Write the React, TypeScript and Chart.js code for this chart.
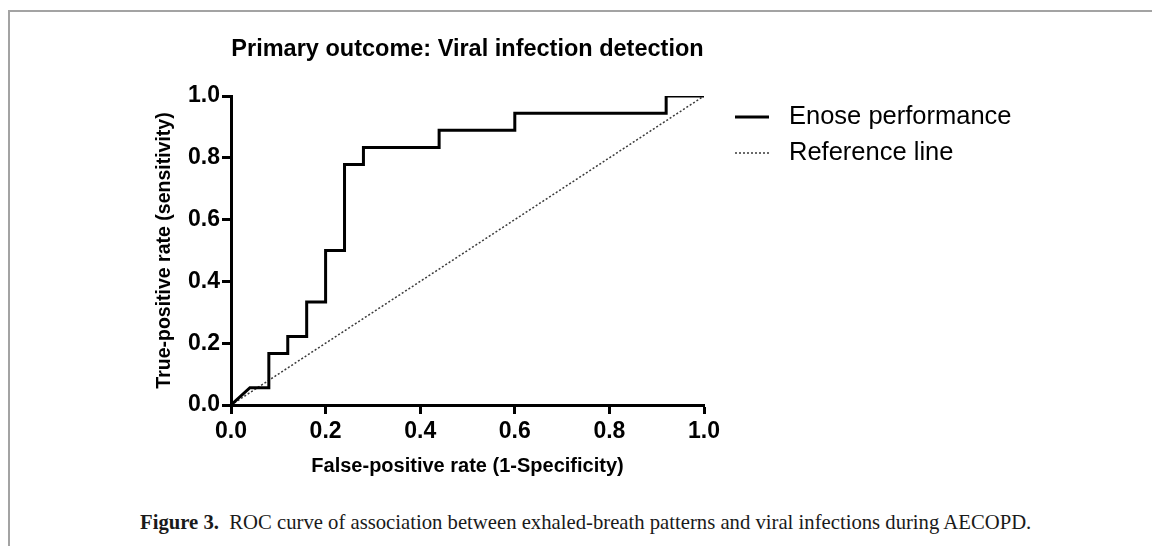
import React, { useEffect, useRef } from "react";
import { Chart, registerables } from "chart.js";

Chart.register(...registerables);

// ROC curve points (False-positive rate, True-positive rate)
const fpr = [0, 0.04, 0.08, 0.08, 0.12, 0.12, 0.16, 0.16, 0.2, 0.2, 0.24, 0.24, 0.28, 0.28, 0.44, 0.44, 0.6, 0.6, 0.92, 0.92, 1.0];
const tpr = [0, 0.056, 0.056, 0.167, 0.167, 0.222, 0.222, 0.333, 0.333, 0.5, 0.5, 0.778, 0.778, 0.833, 0.833, 0.889, 0.889, 0.944, 0.944, 1.0, 1.0];

// Reference (chance) line
const refX = [0, 1];
const refY = [0, 1];

const tickValues = [0, 0.2, 0.4, 0.6, 0.8, 1.0];
const seriesLabels = ["Enose performance", "Reference line"];
const chartTitle = "Primary outcome: Viral infection detection";
const xTitle = "False-positive rate (1-Specificity)";
const yTitle = "True-positive rate (sensitivity)";
const captionBold = "Figure 3.";
const captionText = "ROC curve of association between exhaled-breath patterns and viral infections during AECOPD.";

const FONT = "'Liberation Sans', Arial, Helvetica, sans-serif";

const sideLegend = {
  id: "sideLegend",
  afterDraw(chart: any) {
    const { ctx, chartArea } = chart;
    ctx.save();
    chart.data.datasets.forEach((ds: any, i: number) => {
      const y = chartArea.top + 21 + i * 36;
      const x0 = chartArea.right + 31;
      const x1 = chartArea.right + 65;
      ctx.beginPath();
      ctx.setLineDash(ds.borderDash || []);
      ctx.lineWidth = ds.borderWidth;
      ctx.strokeStyle = ds.borderColor;
      ctx.moveTo(x0, y);
      ctx.lineTo(x1, y);
      ctx.stroke();
      ctx.setLineDash([]);
      ctx.fillStyle = "#000";
      ctx.font = `25.5px ${FONT}`;
      ctx.textBaseline = "middle";
      ctx.textAlign = "left";
      ctx.fillText(ds.label, chartArea.right + 85, y);
    });
    ctx.restore();
  },
};

export default function App() {
  const ref = useRef<HTMLCanvasElement>(null);

  useEffect(() => {
    const canvas = ref.current;
    if (!canvas) return;
    const chart = new Chart(canvas, {
      type: "line",
      data: {
        datasets: [
          {
            label: seriesLabels[0],
            data: fpr.map((x, i) => ({ x, y: tpr[i] })),
            borderColor: "#000",
            borderWidth: 3,
            pointRadius: 0,
            tension: 0,
            fill: false,
            borderJoinStyle: "miter",
            borderCapStyle: "butt",
          },
          {
            label: seriesLabels[1],
            data: refX.map((x, i) => ({ x, y: refY[i] })),
            borderColor: "#3a3a3a",
            borderWidth: 1.5,
            borderDash: [2, 2],
            pointRadius: 0,
            fill: false,
          },
        ],
      },
      options: {
        responsive: false,
        animation: false,
        devicePixelRatio: 1,
        layout: { padding: { left: 0, right: 448, top: 0, bottom: 0 } },
        plugins: {
          legend: { display: false },
          tooltip: { enabled: false },
          title: {
            display: true,
            text: chartTitle,
            fullSize: false,
            color: "#000",
            font: { family: FONT, size: 23.5, weight: "bold", lineHeight: 1.2 },
            padding: { top: 35.9, bottom: 31.9 },
          },
        },
        scales: {
          x: {
            type: "linear",
            min: 0,
            max: 1,
            afterBuildTicks: (s: any) => {
              s.ticks = tickValues.map((v) => ({ value: v }));
            },
            afterFit: (s: any) => {
              s.height = 95;
            },
            ticks: {
              color: "#000",
              font: { family: FONT, size: 23, weight: "bold", lineHeight: 1.2 },
              padding: 4.2,
              maxRotation: 0,
              callback: (v: any) => Number(v).toFixed(1),
            },
            grid: {
              display: true,
              drawOnChartArea: false,
              drawTicks: true,
              tickLength: 9,
              tickWidth: 3,
              tickColor: "#000",
            },
            border: { display: true, color: "#000", width: 3 },
            title: {
              display: true,
              text: xTitle,
              color: "#000",
              font: { family: FONT, size: 20, weight: "bold", lineHeight: 1.2 },
              padding: { top: 0, bottom: 22 },
            },
          },
          y: {
            type: "linear",
            min: 0,
            max: 1,
            afterBuildTicks: (s: any) => {
              s.ticks = tickValues.map((v) => ({ value: v }));
            },
            afterFit: (s: any) => {
              s.width = 231;
            },
            ticks: {
              color: "#000",
              font: { family: FONT, size: 23, weight: "bold", lineHeight: 1.2 },
              padding: 2,
              callback: (v: any) => Number(v).toFixed(1),
            },
            grid: {
              display: true,
              drawOnChartArea: false,
              drawTicks: true,
              tickLength: 9,
              tickWidth: 3,
              tickColor: "#000",
            },
            border: { display: true, color: "#000", width: 3 },
            title: {
              display: true,
              text: yTitle,
              color: "#000",
              font: { family: FONT, size: 19.5, weight: "bold", lineHeight: 1.2 },
              padding: { top: 153.3, bottom: 0 },
            },
          },
        },
      } as any,
      plugins: [sideLegend],
    });
    return () => chart.destroy();
  }, []);

  return (
    <div style={{ position: "fixed", inset: 0, background: "#fff", overflow: "hidden" }}>
      <div
        style={{
          position: "absolute",
          left: 8,
          top: 10,
          right: -20,
          bottom: -20,
          borderTop: "2px solid #a3a3a3",
          borderLeft: "2px solid #a3a3a3",
        }}
      />
      <canvas
        ref={ref}
        width={1152}
        height={500}
        style={{ position: "absolute", left: 0, top: 0, width: 1152, height: 500 }}
      />
      <div
        style={{
          position: "absolute",
          left: 140,
          top: 508,
          fontFamily: "'Liberation Serif', 'Times New Roman', serif",
          fontSize: 20.7,
          whiteSpace: "nowrap",
          color: "#1a1a1a",
          lineHeight: "28px",
        }}
      >
        <b>{captionBold}</b>
        {"\u00a0 " + captionText}
      </div>
    </div>
  );
}
